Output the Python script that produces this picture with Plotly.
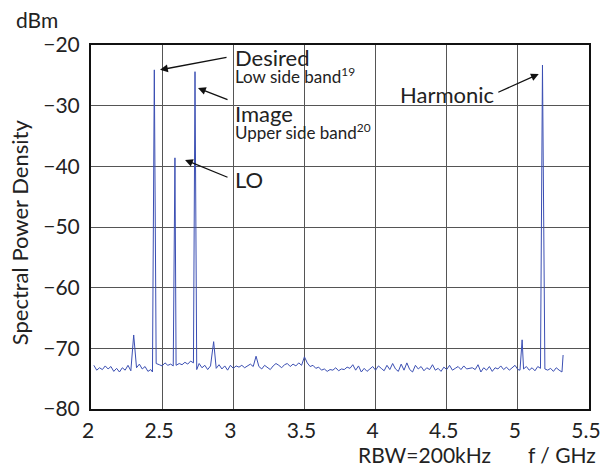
import plotly.graph_objects as go

freq_ghz = [
    2.02, 2.04, 2.06, 2.08, 2.10, 2.12, 2.14, 2.16, 2.18, 2.20,
    2.22, 2.24, 2.26, 2.28, 2.30, 2.32, 2.34, 2.36, 2.38, 2.40,
    2.42, 2.432, 2.445, 2.458, 2.48, 2.50, 2.52, 2.54, 2.56, 2.578,
    2.59, 2.598, 2.62, 2.64, 2.66, 2.68, 2.70, 2.72, 2.731, 2.743,
    2.76, 2.78, 2.80, 2.82, 2.84, 2.862, 2.88, 2.90, 2.92, 2.94,
    2.96, 2.98, 3.00, 3.02, 3.04, 3.06, 3.08, 3.10, 3.12, 3.14,
    3.16, 3.18, 3.20, 3.22, 3.24, 3.26, 3.28, 3.30, 3.32, 3.34,
    3.36, 3.38, 3.40, 3.42, 3.44, 3.46, 3.48, 3.50, 3.52, 3.54,
    3.56, 3.58, 3.60, 3.62, 3.64, 3.66, 3.68, 3.70, 3.72, 3.74,
    3.76, 3.78, 3.80, 3.82, 3.84, 3.86, 3.88, 3.90, 3.92, 3.94,
    3.96, 3.98, 4.00, 4.02, 4.04, 4.06, 4.08, 4.10, 4.12, 4.14,
    4.16, 4.18, 4.20, 4.22, 4.24, 4.26, 4.28, 4.30, 4.32, 4.34,
    4.36, 4.38, 4.40, 4.42, 4.44, 4.46, 4.48, 4.50, 4.52, 4.54,
    4.56, 4.58, 4.60, 4.62, 4.64, 4.66, 4.68, 4.70, 4.72, 4.74,
    4.76, 4.78, 4.80, 4.82, 4.84, 4.86, 4.88, 4.90, 4.92, 4.94,
    4.96, 4.98, 5.00, 5.015, 5.03, 5.04, 5.06, 5.08, 5.10, 5.12,
    5.14, 5.159, 5.173, 5.19, 5.21, 5.23, 5.25, 5.27, 5.29, 5.31,
    5.318,
]
power_dbm = [
    -72.8, -73.6, -73.2, -73.5, -72.9, -73.4, -73.0, -73.8, -73.3, -73.9,
    -73.2, -73.6, -72.8, -73.7, -67.8, -73.2, -72.6, -73.4, -73.0, -73.8,
    -73.5, -73.9, -24.1, -72.5, -72.7, -72.9, -72.4, -72.8, -72.6, -72.9,
    -38.6, -72.8, -72.5, -72.7, -72.3, -72.6, -72.1, -72.4, -24.4, -73.5,
    -72.5, -73.2, -72.8, -73.5, -72.9, -68.9, -73.3, -72.7, -73.4, -72.9,
    -73.6, -72.8, -73.3, -72.9, -73.1, -72.8, -73.2, -72.9, -72.6, -73.0,
    -71.3, -73.0, -73.4, -72.8, -73.2, -73.5, -72.9, -72.5, -72.8, -73.2,
    -72.7, -72.5, -73.0, -72.6, -72.9, -72.4, -72.8, -71.4, -72.4, -73.0,
    -72.8, -73.3, -73.1, -73.6, -73.4, -73.8, -73.5, -73.6, -73.2, -73.7,
    -73.4, -73.5, -73.1, -73.3, -72.7, -73.6, -72.9, -73.9, -73.3, -73.8,
    -73.4, -73.0, -73.6, -72.9, -73.3, -73.7, -72.8, -73.5, -72.5, -73.4,
    -73.8, -72.6, -73.6, -72.4, -73.5, -73.9, -72.8, -73.4, -73.0, -73.7,
    -73.2, -73.5, -72.7, -73.6, -73.3, -73.8, -73.1, -73.5, -72.8, -73.6,
    -73.3, -73.0, -73.5, -72.9, -73.4, -73.3, -73.2, -73.5, -72.7, -73.9,
    -73.2, -73.6, -73.0, -73.8, -73.2, -73.4, -72.9, -73.5, -73.1, -73.6,
    -73.2, -72.8, -73.5, -73.6, -68.6, -73.4, -73.0, -73.6, -73.2, -73.7,
    -73.0, -73.3, -23.3, -73.4, -73.6, -73.3, -73.8, -73.2, -73.6, -73.9,
    -71.1,
]

x_ticks = [2, 2.5, 3, 3.5, 4, 4.5, 5, 5.5]
y_ticks = [-20, -30, -40, -50, -60, -70, -80]

peak_labels = ["Desired", "Image", "LO", "Harmonic"]
peak_notes = ["Low side band<sup>19</sup>", "Upper side band<sup>20</sup>"]

FONT = "Lato"
LINE = "#3b4fb3"
TICK_SIZE = 21

fig = go.Figure()
fig.add_trace(go.Scatter(x=freq_ghz, y=power_dbm, mode="lines",
                         line=dict(color=LINE, width=1), showlegend=False,
                         hoverinfo="skip"))

fig.update_layout(
    width=602, height=468,
    margin=dict(l=91, r=13, t=45, b=59),
    paper_bgcolor="white", plot_bgcolor="white",
    font=dict(family=FONT, size=TICK_SIZE, color="#222"),
    xaxis=dict(range=[2, 5.5], tickvals=x_ticks,
               ticktext=[str(v) for v in x_ticks], automargin=False,
               showgrid=True, gridcolor="#555", gridwidth=1,
               showline=True, linecolor="#111", linewidth=2, mirror=True,
               ticks="", zeroline=False, tickfont=dict(size=TICK_SIZE),
               ticklabelstandoff=2, ticklabelshift=-3,
               ticklabeloverflow="allow"),
    yaxis=dict(range=[-80, -20], tickvals=y_ticks, automargin=False,
               showgrid=True, gridcolor="#555", gridwidth=1,
               showline=True, linecolor="#111", linewidth=2, mirror=True,
               ticks="", zeroline=False, tickfont=dict(size=TICK_SIZE),
               ticklabelstandoff=5),
)

def txt(text, x, y, xref="paper", yref="paper", size=21, xanchor="left",
        yanchor="middle", angle=0, align="left"):
    fig.add_annotation(text=text, x=x, y=y, xref=xref, yref=yref,
                       showarrow=False, xanchor=xanchor, yanchor=yanchor,
                       textangle=angle, borderpad=0, align=align,
                       font=dict(family=FONT, size=size, color="#222"))

def arrow(hx, hy, tx, ty):
    fig.add_annotation(text="", x=hx, y=hy, ax=tx, ay=ty,
                       xref="x", yref="y", axref="x", ayref="y",
                       showarrow=True, arrowhead=2, arrowsize=1.2,
                       arrowwidth=1.3, arrowcolor="#111")

def two_line(title, note):
    return ("<span style='font-size:22px'>" + title + "</span><br>"
            "<span style='font-size:17px'>" + note + "</span>")

# axis labels
txt("dBm", -0.153, 1.07, size=21)
txt("Spectral Power Density", -0.143, 0.485, xanchor="center", angle=-90,
    size=22)
txt("RBW=200kHz", 0.534, -0.125, size=21)
txt("f / GHz", 0.876, -0.125, size=21)

# peak annotations
arrow(2.485, -24.1, 2.963, -22.0)
txt(two_line(peak_labels[0], peak_notes[0]), 3.005, -23.4, "x", "y", size=13)

arrow(2.752, -27.1, 2.970, -29.1)
txt(two_line(peak_labels[1], peak_notes[1]), 3.005, -32.6, "x", "y", size=13)

arrow(2.661, -38.95, 2.970, -41.9)
txt(peak_labels[2], 3.005, -42.2, "x", "y", size=22)

arrow(5.147, -24.8, 4.852, -27.9)
txt(peak_labels[3], 4.84, -28.2, "x", "y", size=22, xanchor="right")

fig.write_html("out.html")
